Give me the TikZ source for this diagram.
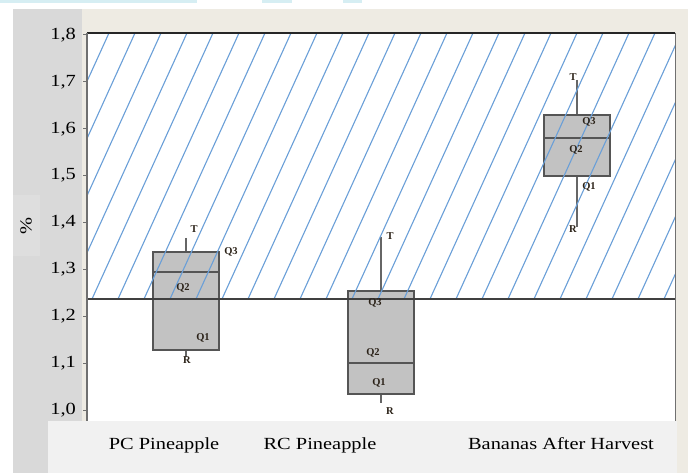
\documentclass[tikz,border=0pt]{standalone}
\usepackage{fontspec}
\setmainfont{Liberation Serif}
\newcommand{\wide}[1]{\scalebox{1.2}[1]{#1}}
\definecolor{topblue}{HTML}{D6EEF3}
\definecolor{beige}{HTML}{EEEBE3}
\definecolor{panelgray}{HTML}{D9D9D9}
\definecolor{pctgray}{HTML}{DEDEDE}
\definecolor{labelgray}{HTML}{F1F1F1}
\definecolor{boxgray}{HTML}{C2C2C2}
\definecolor{boxedge}{HTML}{555555}
\definecolor{whiskgray}{HTML}{666666}
\definecolor{hatchblue}{HTML}{6A9FD8}
\definecolor{axisgray}{HTML}{707070}
\definecolor{reflinegray}{HTML}{404040}
\definecolor{qtext}{HTML}{2B2218}
\begin{document}
\begin{tikzpicture}[x=1pt,y=-1pt,
  ticklab/.style={font=\fontsize{17}{20}\selectfont, anchor=east, text=black, inner sep=0pt},
  catlab/.style={font=\fontsize{17}{20}\selectfont, anchor=base, text=black, inner sep=0pt},
  qlab/.style={font=\fontsize{10.5}{11}\selectfont\bfseries, text=qtext, inner sep=0pt},
  bplot/.style={fill=boxgray, draw=boxedge, line width=1.4pt},
  medline/.style={draw=boxedge, line width=1.4pt},
  whisk/.style={draw=whiskgray, line width=1.4pt},
  hatchline/.style={draw=hatchblue, line width=1.1pt}]
\useasboundingbox (0,0) rectangle (688,473);
% background
\fill[white] (0,0) rectangle (688,473);
\fill[topblue] (0,0) rectangle (197,3);
\fill[topblue] (262,0) rectangle (292,3);
\fill[topblue] (343,0) rectangle (362,3);
\fill[beige] (13,9) rectangle (688,473);
\fill[panelgray] (13,9) rectangle (82,473);
\fill[pctgray] (13,195) rectangle (40,256);
\fill[white] (87,33) rectangle (675,421);
% boxes
\coordinate (pcT) at (186,238); \coordinate (pcTop) at (186,252);
\coordinate (pcBot) at (186,350); \coordinate (pcR) at (186,357);
\coordinate (rcT) at (381,237); \coordinate (rcTop) at (381,291);
\coordinate (rcBot) at (381,394); \coordinate (rcR) at (381,403);
\coordinate (bnT) at (577,80); \coordinate (bnTop) at (577,115);
\coordinate (bnBot) at (577,176); \coordinate (bnR) at (577,227);
\draw[whisk] (pcT) -- (pcTop);
\draw[whisk] (pcBot) -- (pcR);
\draw[whisk] (rcT) -- (rcTop);
\draw[whisk] (rcBot) -- (rcR);
\draw[whisk] (bnT) -- (bnTop);
\draw[whisk] (bnBot) -- (bnR);
\draw[bplot] (153,252) rectangle (219,350);
\draw[medline] (153,272) -- (219,272);
\draw[bplot] (348,291) rectangle (414,394);
\draw[medline] (348,363) -- (414,363);
\draw[bplot] (544,115) rectangle (610,176);
\draw[medline] (544,138) -- (610,138);
% hatch
\begin{scope}
\clip (88,34) rectangle (675,299);
\foreach \m in {-15,...,14}
  \draw[hatchline] ({447+26*\m},33) -- ++(-121,266);
\end{scope}
% reference line and frame
\draw[reflinegray, line width=1.5pt] (87,299) -- (675,299);
\draw[black!85, line width=1.6pt] (87,33) -- (675,33);
\draw[axisgray, line width=1pt] (675,33) -- (675,421);
\draw[axisgray, line width=1.2pt] (87,33) -- (87,421);
\foreach \i/\lab in {0/{1,8},1/{1,7},2/{1,6},3/{1,5},4/{1,4},5/{1,3},6/{1,2},7/{1,1},8/{1,0}} {
  \draw[axisgray, line width=1pt] (83,{35+46.875*\i}) -- (87,{35+46.875*\i});
  \node[ticklab] (tick\i) at (76,{35+46.875*\i}) {\wide{\lab}};
}
\node[font=\fontsize{17}{20}\selectfont, rotate=90, inner sep=0pt] (pct) at (26,226) {\wide{\%}};
% quartile labels
\node[qlab] (pcTl) at (194,229) {T};
\node[qlab] (pcQ3) at (231,252) {Q3};
\node[qlab] (pcQ2) at (183,288) {Q2};
\node[qlab] (pcQ1) at (203,338) {Q1};
\node[qlab] (pcRl) at (187,360) {R};
\node[qlab] (rcTl) at (390,236) {T};
\node[qlab] (rcQ3) at (375,303) {Q3};
\node[qlab] (rcQ2) at (373,353) {Q2};
\node[qlab] (rcQ1) at (379,383) {Q1};
\node[qlab] (rcRl) at (390,411) {R};
\node[qlab] (bnTl) at (573,77) {T};
\node[qlab] (bnQ3) at (589,122) {Q3};
\node[qlab] (bnQ2) at (576,150) {Q2};
\node[qlab] (bnQ1) at (589,187) {Q1};
\node[qlab] (bnRl) at (573,229) {R};
% category box
\fill[labelgray] (48,421) rectangle (677,473);
\node[catlab] (catpc) at (164,449) {\wide{PC Pineapple}};
\node[catlab] (catrc) at (320,449) {\wide{RC Pineapple}};
\node[catlab] (catbn) at (561,449) {\wide{Bananas After Harvest}};
\end{tikzpicture}
\end{document}
